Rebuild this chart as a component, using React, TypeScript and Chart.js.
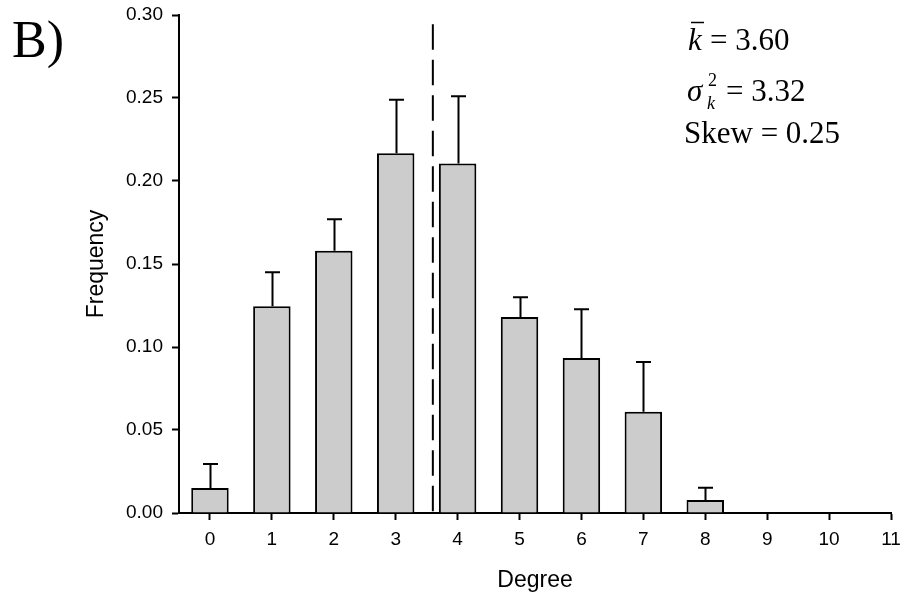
import React, { useEffect, useRef } from "react";
import { Chart, registerables } from "chart.js";

Chart.register(...registerables);

const DEGREES = [0, 1, 2, 3, 4, 5, 6, 7, 8, 9, 10, 11];
const FREQUENCY = [0.015, 0.1246, 0.158, 0.2167, 0.2105, 0.118, 0.0933, 0.061, 0.0078, 0, 0, 0];
const ERROR_UP = [0.0145, 0.0204, 0.019, 0.0323, 0.0405, 0.012, 0.0295, 0.0299, 0.0074, 0, 0, 0];
const X_TICKS = [0, 1, 2, 3, 4, 5, 6, 7, 8, 9, 10, 11];
const Y_TICKS = [0, 0.05, 0.1, 0.15, 0.2, 0.25, 0.3];
const MEAN_DEGREE = 3.6;
const PANEL_LABEL = "B)";
const STAT_MEAN = "3.60";
const STAT_VAR = "3.32";
const STAT_SKEW = "0.25";

const SANS = "'Liberation Sans', Arial, sans-serif";
const SERIF = "'Liberation Serif', 'Times New Roman', serif";

const overlayPlugin = {
  id: "overlay",
  afterDatasetsDraw(chart: any) {
    const ctx = chart.ctx;
    const xs = chart.scales.x;
    const ys = chart.scales.y;
    const meta = chart.getDatasetMeta(0);
    ctx.save();
    // error bars
    ctx.strokeStyle = "#000";
    ctx.lineWidth = 2;
    meta.data.forEach((el: any, i: number) => {
      const e = ERROR_UP[i];
      if (!e) return;
      const x = Math.round(el.x) + 0.5;
      const yb = ys.getPixelForValue(FREQUENCY[i]);
      const yt = ys.getPixelForValue(FREQUENCY[i] + e);
      ctx.beginPath();
      ctx.moveTo(x, yb);
      ctx.lineTo(x, yt);
      ctx.moveTo(x - 7.5, yt);
      ctx.lineTo(x + 7.5, yt);
      ctx.stroke();
    });
    // mean dashed line
    const mx = xs.getPixelForValue(MEAN_DEGREE);
    ctx.setLineDash([25.5, 10]);
    ctx.beginPath();
    ctx.moveTo(mx, ys.getPixelForValue(0.2945));
    ctx.lineTo(mx, ys.getPixelForValue(0));
    ctx.stroke();
    ctx.setLineDash([]);

    // panel label
    ctx.fillStyle = "#000";
    ctx.textBaseline = "alphabetic";
    ctx.textAlign = "left";
    ctx.font = `52px ${SERIF}`;
    ctx.fillText(PANEL_LABEL, 12, 57);

    // stats
    ctx.font = `italic 31px ${SERIF}`;
    ctx.fillText("k", 688, 50);
    ctx.lineWidth = 1.5;
    ctx.beginPath();
    ctx.moveTo(691, 22.5);
    ctx.lineTo(704, 22.5);
    ctx.stroke();
    ctx.font = `31px ${SERIF}`;
    ctx.fillText("= " + STAT_MEAN, 710, 50);

    ctx.font = `italic 31px ${SERIF}`;
    ctx.fillText("σ", 687, 101);
    ctx.font = `italic 18px ${SERIF}`;
    ctx.fillText("k", 707, 109);
    ctx.font = `18px ${SERIF}`;
    ctx.fillText("2", 708, 86);
    ctx.font = `31px ${SERIF}`;
    ctx.fillText("= " + STAT_VAR, 726, 101);

    ctx.fillText("Skew = " + STAT_SKEW, 684, 143);
    ctx.restore();
  },
};

export default function App() {
  const ref = useRef<HTMLCanvasElement>(null);
  useEffect(() => {
    document.body.style.margin = "0";
    const data = DEGREES.map((d, i) => ({ x: d, y: FREQUENCY[i] }));
    const chart = new Chart(ref.current!, {
      type: "bar",
      data: {
        datasets: [
          {
            data: data as any,
            backgroundColor: "#cccccc",
            borderColor: "#000000",
            borderWidth: 2,
            borderSkipped: "bottom",
            barPercentage: 0.605,
            categoryPercentage: 1,
          },
        ],
      },
      options: {
        animation: false,
        responsive: false,
        events: [],
        layout: { padding: { left: 0, top: 15, right: 13, bottom: 0 } },
        plugins: { legend: { display: false }, tooltip: { enabled: false } },
        scales: {
          x: {
            type: "linear",
            min: -0.5,
            max: 11,
            offset: false,
            afterBuildTicks: (s: any) => {
              s.ticks = X_TICKS.map((v) => ({ value: v }));
            },
            afterFit: (s: any) => {
              s.height = 85;
              s.paddingLeft = 0;
              s.paddingRight = 0;
              s.paddingTop = 0;
              s.paddingBottom = 0;
            },
            grid: {
              display: true,
              offset: false,
              drawOnChartArea: false,
              drawTicks: true,
              tickLength: 7,
              tickWidth: 2,
              tickColor: "#000",
            },
            border: { display: true, color: "#000", width: 2 },
            ticks: {
              color: "#000",
              font: { family: SANS, size: 19 },
              padding: 8,
              maxRotation: 0,
              autoSkip: false,
              callback: (v: any) => String(v),
            },
            title: {
              display: true,
              text: "Degree",
              color: "#000",
              font: { family: SANS, size: 23 },
              padding: { top: 4, bottom: 4 },
            },
          },
          y: {
            type: "linear",
            min: 0,
            max: 0.3,
            afterBuildTicks: (s: any) => {
              s.ticks = Y_TICKS.map((v) => ({ value: v }));
            },
            afterFit: (s: any) => {
              s.width = 179;
              s.paddingLeft = 0;
              s.paddingRight = 0;
              s.paddingTop = 0;
              s.paddingBottom = 0;
            },
            grid: {
              display: true,
              drawOnChartArea: false,
              drawTicks: true,
              tickLength: 7,
              tickWidth: 2,
              tickColor: "#000",
            },
            border: { display: true, color: "#000", width: 2 },
            ticks: {
              color: "#000",
              font: { family: SANS, size: 19 },
              padding: 9,
              autoSkip: false,
              callback: (v: any) => Number(v).toFixed(2),
            },
            title: {
              display: true,
              text: "Frequency",
              color: "#000",
              font: { family: SANS, size: 23 },
              padding: { top: 83, bottom: 83 },
            },
          },
        },
      },
      plugins: [overlayPlugin],
    });
    return () => chart.destroy();
  }, []);
  return (
    <div style={{ width: 904, height: 598 }}>
      <canvas ref={ref} width={904} height={598} />
    </div>
  );
}
